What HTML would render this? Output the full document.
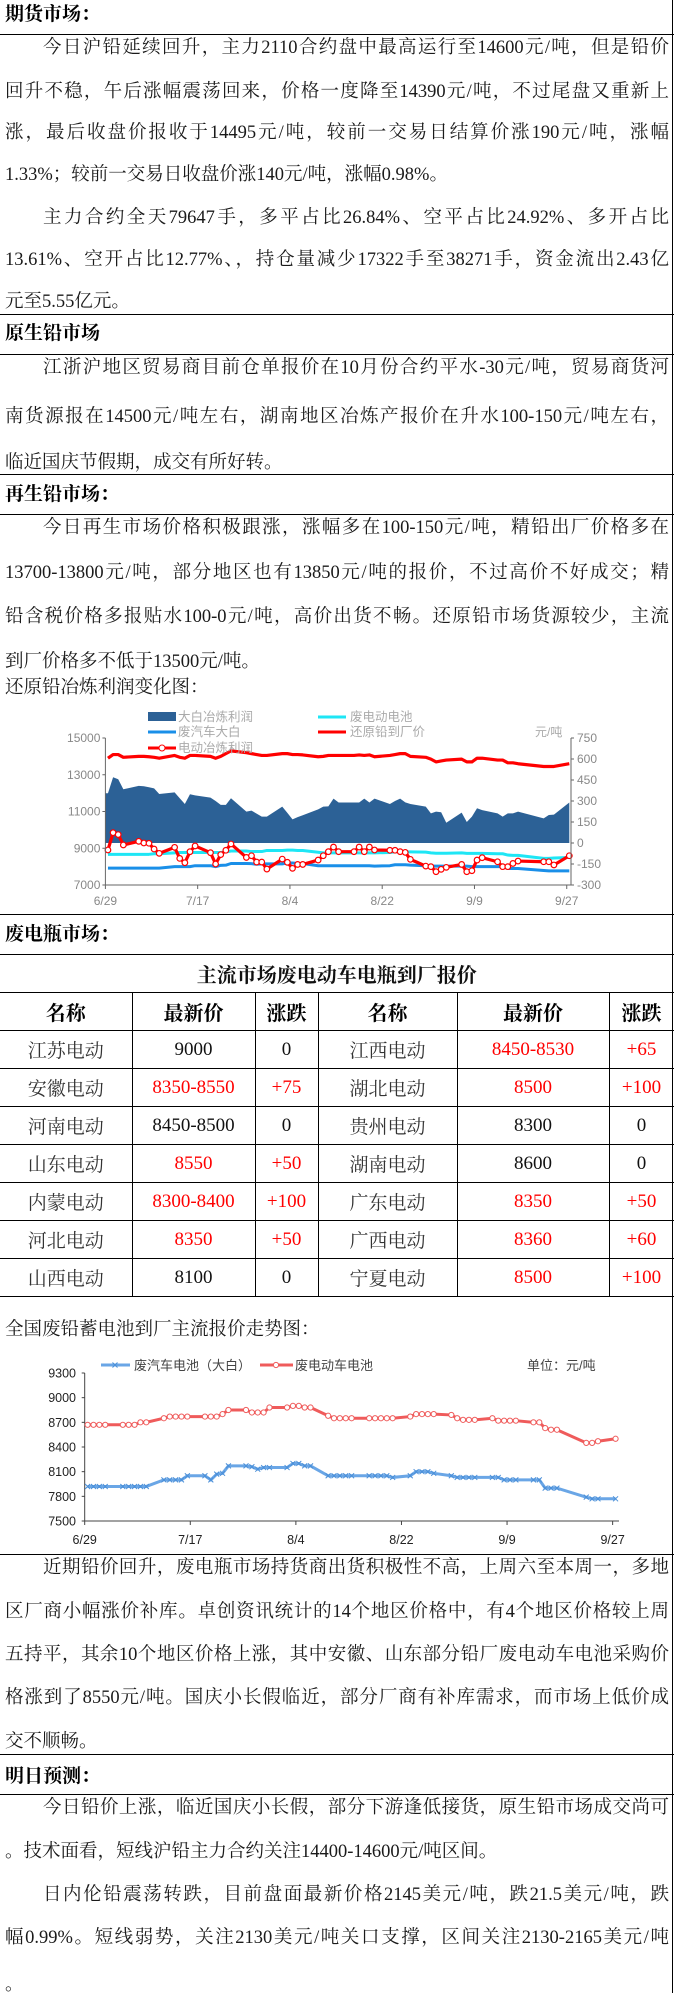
<!DOCTYPE html>
<html><head><meta charset="utf-8">
<style>
html,body{margin:0;padding:0;background:#fff;}
body{width:674px;height:1993px;position:relative;overflow:hidden;font-family:"Liberation Serif","Noto Serif CJK SC",serif;color:#1a1a1a;}
.hl{position:absolute;left:0;width:674px;height:0;border-top:1.5px solid #000;}
.vr{position:absolute;left:672px;top:0;width:0;height:1993px;border-left:1.5px solid #000;}
.h{position:absolute;left:5px;font-size:19px;font-weight:bold;line-height:24px;height:24px;color:#000;}
.ln{position:absolute;left:5px;width:664px;font-size:18.5px;line-height:42px;height:42px;white-space:nowrap;}
.ln.full{text-align:justify;text-align-last:justify;}
.ind{padding-left:38px;width:626px;}
table{position:absolute;left:0;top:954px;width:674px;border-collapse:collapse;table-layout:fixed;font-family:"Liberation Serif","Noto Serif CJK SC",serif;}
td{border:1.5px solid #000;height:37px;padding:0;text-align:center;font-size:19px;color:#111;}
tr td:first-child{border-left:none;}
td.t{font-weight:bold;font-size:20px;}
td.hd{font-weight:bold;font-size:20px;color:#000;}
td.nm{color:#333;}
td.r{color:#f00;}
svg text{font-family:"Liberation Sans","Noto Sans CJK SC",sans-serif;}
</style></head>
<body>
<div class="vr"></div>

<div class="h" style="top:3px">期货市场：</div>
<div class="hl" style="top:34px"></div>
<div class="ln ind full" style="top:27px">今日沪铅延续回升，主力2110合约盘中最高运行至14600元/吨，但是铅价</div>
<div class="ln full" style="top:71px">回升不稳，午后涨幅震荡回来，价格一度降至14390元/吨，不过尾盘又重新上</div>
<div class="ln full" style="top:112px">涨，最后收盘价报收于14495元/吨，较前一交易日结算价涨190元/吨，涨幅</div>
<div class="ln" style="top:154px">1.33%；较前一交易日收盘价涨140元/吨，涨幅0.98%。</div>
<div class="ln ind full" style="top:197px">主力合约全天79647手，多平占比26.84%、空平占比24.92%、多开占比</div>
<div class="ln full" style="top:239px">13.61%、空开占比12.77%、，持仓量减少17322手至38271手，资金流出2.43亿</div>
<div class="ln" style="top:281px">元至5.55亿元。</div>
<div class="hl" style="top:314px"></div>

<div class="h" style="top:322px">原生铅市场</div>
<div class="hl" style="top:354px"></div>
<div class="ln ind full" style="top:347px">江浙沪地区贸易商目前仓单报价在10月份合约平水-30元/吨，贸易商货河</div>
<div class="ln full" style="top:396px">南货源报在14500元/吨左右，湖南地区冶炼产报价在升水100-150元/吨左右，</div>
<div class="ln" style="top:442px">临近国庆节假期，成交有所好转。</div>
<div class="hl" style="top:474px"></div>

<div class="h" style="top:483px">再生铅市场：</div>
<div class="hl" style="top:514px"></div>
<div class="ln ind full" style="top:507px">今日再生市场价格积极跟涨，涨幅多在100-150元/吨，精铅出厂价格多在</div>
<div class="ln full" style="top:552px">13700-13800元/吨，部分地区也有13850元/吨的报价，不过高价不好成交；精</div>
<div class="ln full" style="top:596px">铅含税价格多报贴水100-0元/吨，高价出货不畅。还原铅市场货源较少，主流</div>
<div class="ln" style="top:641px">到厂价格多不低于13500元/吨。</div>
<div class="ln" style="top:667px">还原铅冶炼利润变化图：</div>

<svg id="c1" style="position:absolute;left:0;top:700px" width="674" height="212" viewBox="0 700 674 212"></svg>
<div class="hl" style="top:914px"></div>

<div class="h" style="top:923px">废电瓶市场：</div>
<div class="hl" style="top:954px"></div>
<table>
<colgroup><col style="width:132px"><col style="width:123px"><col style="width:63px"><col style="width:139px"><col style="width:152px"><col style="width:65px"></colgroup>
<tr><td class="t" colspan="6">主流市场废电动车电瓶到厂报价</td></tr>
<tr><td class="hd">名称</td><td class="hd">最新价</td><td class="hd">涨跌</td><td class="hd">名称</td><td class="hd">最新价</td><td class="hd">涨跌</td></tr>
<tr><td class="nm">江苏电动</td><td>9000</td><td>0</td><td class="nm">江西电动</td><td class="r">8450-8530</td><td class="r">+65</td></tr>
<tr><td class="nm">安徽电动</td><td class="r">8350-8550</td><td class="r">+75</td><td class="nm">湖北电动</td><td class="r">8500</td><td class="r">+100</td></tr>
<tr><td class="nm">河南电动</td><td>8450-8500</td><td>0</td><td class="nm">贵州电动</td><td>8300</td><td>0</td></tr>
<tr><td class="nm">山东电动</td><td class="r">8550</td><td class="r">+50</td><td class="nm">湖南电动</td><td>8600</td><td>0</td></tr>
<tr><td class="nm">内蒙电动</td><td class="r">8300-8400</td><td class="r">+100</td><td class="nm">广东电动</td><td class="r">8350</td><td class="r">+50</td></tr>
<tr><td class="nm">河北电动</td><td class="r">8350</td><td class="r">+50</td><td class="nm">广西电动</td><td class="r">8360</td><td class="r">+60</td></tr>
<tr><td class="nm">山西电动</td><td>8100</td><td>0</td><td class="nm">宁夏电动</td><td class="r">8500</td><td class="r">+100</td></tr>
</table>

<div class="ln" style="top:1309px">全国废铅蓄电池到厂主流报价走势图：</div>
<svg id="c2" style="position:absolute;left:0;top:1350px" width="674" height="200" viewBox="0 1350 674 200"></svg>
<div class="hl" style="top:1554px"></div>

<div class="ln ind full" style="top:1547px">近期铅价回升，废电瓶市场持货商出货积极性不高，上周六至本周一，多地</div>
<div class="ln full" style="top:1591px">区厂商小幅涨价补库。卓创资讯统计的14个地区价格中，有4个地区价格较上周</div>
<div class="ln full" style="top:1634px">五持平，其余10个地区价格上涨，其中安徽、山东部分铅厂废电动车电池采购价</div>
<div class="ln full" style="top:1677px">格涨到了8550元/吨。国庆小长假临近，部分厂商有补库需求，而市场上低价成</div>
<div class="ln" style="top:1721px">交不顺畅。</div>
<div class="hl" style="top:1754px"></div>

<div class="h" style="top:1765px">明日预测：</div>
<div class="hl" style="top:1794px"></div>
<div class="ln ind full" style="top:1787px">今日铅价上涨，临近国庆小长假，部分下游逢低接货，原生铅市场成交尚可</div>
<div class="ln" style="top:1831px">。技术面看，短线沪铅主力合约关注14400-14600元/吨区间。</div>
<div class="ln ind full" style="top:1874px">日内伦铅震荡转跌，目前盘面最新价格2145美元/吨，跌21.5美元/吨，跌</div>
<div class="ln full" style="top:1917px">幅0.99%。短线弱势，关注2130美元/吨关口支撑，区间关注2130-2165美元/吨</div>
<div class="ln" style="top:1964px">。</div>

<script>
// shared trading-day offsets (days since 6/29)
const days = [0,1,2,3,6,7,8,9,10,13,14,15,16,17,20,21,22,23,24,27,28,29,30,31,34,35,36,37,38,41,42,43,44,45,48,49,50,51,52,55,56,57,58,59,62,63,64,65,66,69,70,71,72,73,76,77,78,79,80,85,86,87,90];
const dateLabels = ["6/29","7/17","8/4","8/22","9/9","9/27"];
const dateTickDays = [0,18,36,54,72,90];
// chart 1
const profitBigWhite = [355,470,455,384,408,405,398,390,350,362,320,279,348,340,324,300,272,272,320,224,231,210,188,188,260,215,169,185,198,240,260,262,317,289,289,289,317,289,317,279,300,317,290,279,260,212,224,220,145,217,150,188,248,235,212,188,212,212,224,176,200,203,289];
const profitElectric = [-50,74,60,-14,12,0,-2,-43,-74,-31,-110,-141,-62,-21,-69,-150,-83,-52,-7,-103,-91,-136,-136,-186,-115,-138,-181,-153,-153,-122,-91,-62,-29,-62,-62,-29,-62,-29,-50,-52,-52,-62,-67,-117,-165,-169,-205,-188,-174,-153,-205,-198,-122,-105,-134,-169,-169,-146,-129,-134,-134,-157,-91];
const reducedLeadPrice = [13900,14100,14100,13950,14000,14000,13980,13950,13900,14050,13950,13900,14050,14050,14000,13900,14000,14150,14300,14200,14150,14100,14050,14050,14150,14150,14100,14100,14080,13980,14000,14050,14050,14050,14050,14080,14050,14080,13980,14050,14100,14150,14150,14000,13950,13850,13700,13750,13800,13850,13700,13700,13900,13900,13800,13800,13650,13650,13600,13450,13450,13450,13600];
const leftTicks1 = [15000,13000,11000,9000,7000];
const rightTicks1 = [750,600,450,300,150,0,-150,-300];
// chart 2
const electricBattery = [8670,8670,8670,8670,8670,8670,8670,8700,8700,8750,8770,8770,8770,8770,8770,8770,8770,8800,8850,8850,8820,8820,8820,8880,8880,8900,8900,8880,8880,8780,8750,8750,8750,8750,8750,8750,8750,8750,8750,8770,8800,8800,8800,8800,8790,8750,8730,8730,8730,8750,8720,8720,8720,8720,8700,8700,8630,8610,8610,8450,8450,8470,8500];
const carBattery = [7920,7920,7920,7920,7920,7920,7920,7920,7920,8000,8000,8000,8000,8050,8050,8000,8070,8080,8170,8170,8160,8130,8150,8150,8150,8200,8200,8170,8170,8050,8050,8050,8050,8050,8050,8050,8050,8050,8030,8050,8100,8100,8100,8080,8050,8030,8030,8030,8030,8030,8030,8000,8000,8000,8000,8000,7900,7900,7900,7790,7770,7770,7770];
const leftTicks2 = [9300,9000,8700,8400,8100,7800,7500];

const NS="http://www.w3.org/2000/svg";
function mk(svg,tag,attrs,txt){const e=document.createElementNS(NS,tag);for(const k in attrs)e.setAttribute(k,attrs[k]);if(txt!==undefined)e.textContent=txt;svg.appendChild(e);return e;}

// ---------- chart 1 ----------
(function(){
const s=document.getElementById('c1');
const X0=105.4,X1=571,STEP=5.126,YT=738,YB=885;
const xd=d=>X0+(d+0.5)*STEP, xt=d=>X0+d*STEP;
const yL=v=>YT+(15000-v)/8000*(YB-YT);
const yR=v=>YT+(750-v)/1050*(YB-YT);
// area
let pts=days.map((d,i)=>xd(d)+','+yR(profitBigWhite[i]));
pts.unshift(X0+','+yR(0)+' '+X0+','+yR(profitBigWhite[0]));
pts.push(xd(days[days.length-1])+','+yR(0));
let a=mk(s,'polygon',{points:pts.join(' '),fill:'#2c6196'});


function line(vals,fy,col,w,name){const p=mk(s,'polyline',{points:days.map((d,i)=>xd(d)+','+fy(vals[i])).join(' '),fill:'none',stroke:col,'stroke-width':w,'stroke-linejoin':'round'});


return p;}
line(electricBattery,yL,'#1ee6f5',3,'scrap-ebike-battery-line');
line(carBattery,yL,'#1a8fe8',3,'scrap-car-battery-line');
line(reducedLeadPrice,yL,'#f00',3.2,'reduced-lead-price-line');
line(profitElectric,yR,'#f00',3.2,'electric-profit-line');
days.forEach((d,i)=>{const c=mk(s,'circle',{cx:xd(d),cy:yR(profitElectric[i]),r:2.8,fill:'#fff',stroke:'#f00','stroke-width':1.2});

});
// axes
mk(s,'line',{x1:X0,y1:YT,x2:X0,y2:YB,stroke:'#666','stroke-width':1});
mk(s,'line',{x1:X1,y1:YT,x2:X1,y2:YB,stroke:'#666','stroke-width':1});
mk(s,'line',{x1:X0,y1:YB,x2:X1,y2:YB,stroke:'#666','stroke-width':1});
leftTicks1.forEach(v=>{mk(s,'line',{x1:X0-3,y1:yL(v),x2:X0,y2:yL(v),stroke:'#666'});
const t=mk(s,'text',{x:X0-5,y:yL(v)+4,'text-anchor':'end','font-size':12,fill:'#888'},v);

});
rightTicks1.forEach(v=>{mk(s,'line',{x1:X1,y1:yR(v),x2:X1+3,y2:yR(v),stroke:'#666'});
const t=mk(s,'text',{x:X1+6,y:yR(v)+4,'font-size':12,fill:'#888'},v);

});
dateTickDays.forEach((d,i)=>{mk(s,'line',{x1:xt(d),y1:YB,x2:xt(d),y2:YB+4,stroke:'#666'});
const t=mk(s,'text',{x:xt(d),y:905,'text-anchor':'middle','font-size':12,fill:'#888'},dateLabels[i]);

});
mk(s,'text',{x:535,y:736,'font-size':12,fill:'#aaa'},'元/吨');
// legend
mk(s,'rect',{x:148,y:712,width:28,height:9,fill:'#2c6196'});
mk(s,'text',{x:178,y:721,'font-size':12.5,fill:'#aaa'},'大白冶炼利润');
mk(s,'line',{x1:318,y1:717,x2:346,y2:717,stroke:'#1ee6f5','stroke-width':3});
mk(s,'text',{x:350,y:721,'font-size':12.5,fill:'#aaa'},'废电动电池');
mk(s,'line',{x1:148,y1:732,x2:176,y2:732,stroke:'#1a8fe8','stroke-width':3});
mk(s,'text',{x:178,y:736,'font-size':12.5,fill:'#aaa'},'废汽车大白');
mk(s,'line',{x1:318,y1:732,x2:346,y2:732,stroke:'#f00','stroke-width':3});
mk(s,'text',{x:350,y:736,'font-size':12.5,fill:'#aaa'},'还原铅到厂价');
mk(s,'line',{x1:148,y1:748,x2:176,y2:748,stroke:'#f00','stroke-width':3});
mk(s,'circle',{cx:162,cy:748,r:3,fill:'#fff',stroke:'#f00'});
mk(s,'text',{x:178,y:752,'font-size':12.5,fill:'#aaa'},'电动冶炼利润');
})();

// ---------- chart 2 ----------
(function(){
const s=document.getElementById('c2');
const X0=84.7,X1=619,STEP=5.866,YT=1373,YB=1521;
const xd=d=>X0+(d+0.5)*STEP, xt=d=>X0+d*STEP;
const y=v=>YT+(9300-v)/1800*(YB-YT);
mk(s,'line',{x1:X0,y1:YT,x2:X0,y2:YB,stroke:'#444','stroke-width':1});
mk(s,'line',{x1:X0,y1:YB,x2:X1,y2:YB,stroke:'#444','stroke-width':1});
leftTicks2.forEach(v=>{mk(s,'line',{x1:X0-3,y1:y(v),x2:X0,y2:y(v),stroke:'#444'});
const t=mk(s,'text',{x:76,y:y(v)+4.5,'text-anchor':'end','font-size':12.5,fill:'#222'},v);

});
dateTickDays.forEach((d,i)=>{mk(s,'line',{x1:xt(d),y1:YB,x2:xt(d),y2:YB+4,stroke:'#444'});
const t=mk(s,'text',{x:xt(d),y:1544,'text-anchor':'middle','font-size':12.5,fill:'#222'},dateLabels[i]);

});
const pb=mk(s,'polyline',{points:days.map((d,i)=>xd(d)+','+y(carBattery[i])).join(' '),fill:'none',stroke:'#6aa6e6','stroke-width':3});


days.forEach((d,i)=>{const cx=xd(d),cy=y(carBattery[i]);
const m=mk(s,'path',{d:`M${cx-2.5},${cy-2.5}L${cx+2.5},${cy+2.5}M${cx-2.5},${cy+2.5}L${cx+2.5},${cy-2.5}`,stroke:'#4a8fd8','stroke-width':1,fill:'none'});

});
const pr=mk(s,'polyline',{points:days.map((d,i)=>xd(d)+','+y(electricBattery[i])).join(' '),fill:'none',stroke:'#ef5b5b','stroke-width':3});


days.forEach((d,i)=>{const c=mk(s,'circle',{cx:xd(d),cy:y(electricBattery[i]),r:2.6,fill:'#fff',stroke:'#ef5b5b','stroke-width':1});

});
// legend
mk(s,'line',{x1:101,y1:1365,x2:130,y2:1365,stroke:'#6aa6e6','stroke-width':3});
mk(s,'path',{d:'M112.5,1362.5L117.5,1367.5M112.5,1367.5L117.5,1362.5',stroke:'#4a8fd8','stroke-width':1});
mk(s,'text',{x:134,y:1370,'font-size':13,fill:'#444'},'废汽车电池（大白）');
mk(s,'line',{x1:260,y1:1365,x2:293,y2:1365,stroke:'#ef5b5b','stroke-width':3});
mk(s,'circle',{cx:276,cy:1365,r:2.6,fill:'#fff',stroke:'#ef5b5b'});
mk(s,'text',{x:295,y:1370,'font-size':13,fill:'#444'},'废电动车电池');
mk(s,'text',{x:527,y:1370,'font-size':13,fill:'#444'},'单位：元/吨');
})();
</script>
</body></html>
